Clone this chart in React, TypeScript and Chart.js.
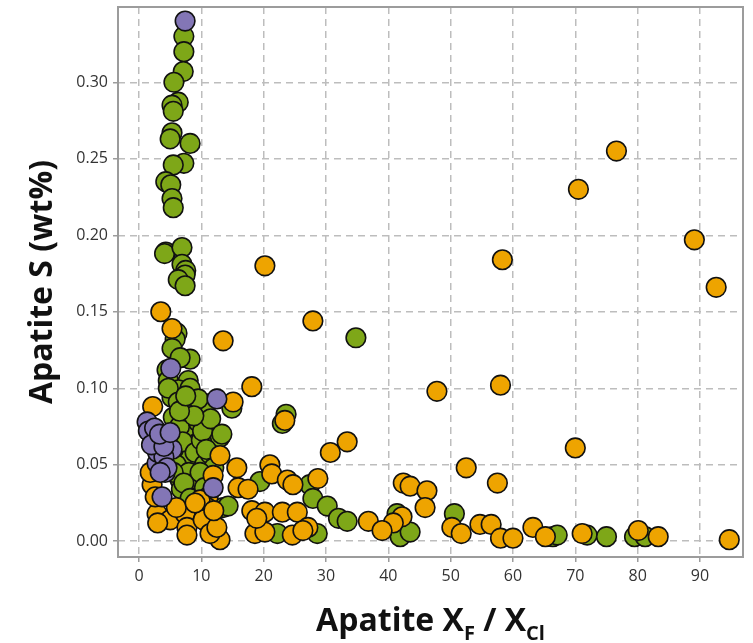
import React, { useEffect, useRef } from 'react';
import { Chart, registerables } from 'chart.js';

Chart.register(...registerables);

const xTickValues = [0, 10, 20, 30, 40, 50, 60, 70, 80, 90];
const yTickValues = [0, 0.05, 0.1, 0.15, 0.2, 0.25, 0.3];

const xTitleParts = [
  { text: 'Apatite X', sub: false },
  { text: 'F', sub: true },
  { text: ' / X', sub: false },
  { text: 'Cl', sub: true },
];
const yTitle = 'Apatite S (wt%)';

const greenX = [
  7.2, 7.2, 7.1, 5.6, 6.3, 5.3, 5.5, 5.3, 5.0, 8.2, 7.2, 5.5, 4.3, 5.1, 5.3, 5.5,
  4.3, 4.1, 6.9, 6.9, 7.5, 7.4, 6.3, 7.4,
  6.1, 5.8, 5.3, 8.2, 6.6, 4.5, 4.7, 7.9, 6.3, 5.3, 10.6, 8.2, 4.7,
  5.5, 10.6, 6.3, 13.0, 8.2, 9.3, 7.7, 6.6, 8.5, 7.7, 13.5, 5.5, 6.5, 7.0, 9.5, 4.8,
  6.0, 8.0, 9.0, 10.5, 7.5, 5.5, 9.5, 11.4, 6.8, 8.8, 10.0,
  9.5, 10.2, 11.5, 8.8, 10.8, 12.0, 9.8, 7.2, 8.2, 10.5, 6.5, 7.5,
  14.9, 13.3, 23.0, 23.6, 19.4, 14.3, 22.2, 28.6, 27.4, 27.9, 30.2, 32.0, 33.4, 34.8,
  41.4, 41.9, 43.5, 50.6, 66.4, 67.1, 71.9, 75.0, 79.5, 81.2,
];
const greenY = [
  0.330, 0.320, 0.307, 0.300, 0.287, 0.285, 0.281, 0.267, 0.263, 0.260, 0.247, 0.246, 0.235, 0.233, 0.224, 0.218,
  0.189, 0.188, 0.192, 0.181, 0.177, 0.174, 0.171, 0.167,
  0.136, 0.132, 0.126, 0.119, 0.120, 0.112, 0.105, 0.105, 0.099, 0.094, 0.090, 0.100, 0.100,
  0.081, 0.086, 0.091, 0.068, 0.071, 0.064, 0.055, 0.040, 0.036, 0.029, 0.022, 0.060, 0.075, 0.065, 0.078, 0.070,
  0.050, 0.045, 0.058, 0.050, 0.085, 0.045, 0.040, 0.057, 0.034, 0.024, 0.066,
  0.093, 0.072, 0.080, 0.082, 0.060, 0.048, 0.045, 0.038, 0.028, 0.035, 0.085, 0.095,
  0.087, 0.070, 0.077, 0.083, 0.039, 0.023, 0.005, 0.005, 0.037, 0.028, 0.023, 0.015, 0.013, 0.133,
  0.018, 0.003, 0.006, 0.018, 0.003, 0.004, 0.004, 0.003, 0.003, 0.003,
];

const purpleX = [
  7.4, 5.1, 12.5, 1.3, 2.2, 5.3, 2.9, 4.2, 3.7, 1.5, 2.5, 3.5, 3.0, 4.0, 2.0, 4.5, 11.9, 4.0, 3.3, 5.0, 3.4,
];
const purpleY = [
  0.340, 0.113, 0.093, 0.078, 0.068, 0.060, 0.051, 0.045, 0.029, 0.072, 0.074, 0.066, 0.058, 0.055, 0.063, 0.048, 0.035, 0.062, 0.070, 0.071, 0.045,
];

const orangeX = [
  76.6, 70.5, 89.1, 92.6, 58.3, 20.2, 27.9, 13.5, 3.5, 5.3,
  47.8, 58.0, 18.1, 15.1, 2.2, 23.4, 70.0, 33.4, 30.7, 13.0,
  52.5, 15.7, 21.0, 21.3, 23.8, 28.7, 57.5, 42.4, 43.5, 46.2,
  11.9, 15.9, 17.5, 2.1, 11.1, 45.9, 42.2, 40.8, 36.8, 39.0,
  50.2, 51.7, 54.7, 56.5, 58.0, 60.0, 63.2, 65.2, 71.1, 80.1,
  83.3, 94.7, 10.9, 18.1, 20.2, 23.0, 25.4, 18.6, 24.6, 27.1,
  13.0, 2.9, 5.0, 7.4, 7.7, 10.3, 11.4, 3.0, 2.6, 1.8,
  9.8, 12.5, 20.2, 18.9, 26.3, 7.7, 24.7, 6.0, 9.0, 12.0,
];
const orangeY = [
  0.255, 0.230, 0.197, 0.166, 0.184, 0.180, 0.144, 0.131, 0.150, 0.139,
  0.098, 0.102, 0.101, 0.091, 0.088, 0.079, 0.061, 0.065, 0.058, 0.056,
  0.048, 0.048, 0.050, 0.044, 0.040, 0.041, 0.038, 0.038, 0.036, 0.033,
  0.043, 0.035, 0.034, 0.037, 0.029, 0.022, 0.016, 0.012, 0.013, 0.007,
  0.009, 0.005, 0.011, 0.011, 0.002, 0.002, 0.009, 0.003, 0.005, 0.007,
  0.003, 0.001, 0.022, 0.020, 0.019, 0.019, 0.019, 0.005, 0.004, 0.009,
  0.001, 0.018, 0.014, 0.018, 0.009, 0.014, 0.005, 0.012, 0.029, 0.045,
  0.027, 0.009, 0.006, 0.015, 0.007, 0.004, 0.037, 0.022, 0.025, 0.020,
];

const toPoints = (xs: number[], ys: number[]) => xs.map((x, i) => ({ x, y: ys[i] }));

const FONT = '"Open Sans", "Noto Sans", sans-serif';

const framePlugin = {
  id: 'frameAndTitles',
  beforeDatasetsDraw(chart: any) {
    const { ctx, chartArea: a } = chart;
    ctx.save();
    ctx.strokeStyle = '#9c9c9c';
    ctx.lineWidth = 2;
    ctx.strokeRect(a.left, a.top, a.right - a.left, a.bottom - a.top);
    ctx.restore();
  },
  afterDraw(chart: any) {
    const { ctx, chartArea: a } = chart;
    ctx.save();
    ctx.fillStyle = '#111';
    ctx.textBaseline = 'alphabetic';
    ctx.textAlign = 'left';
    const mainFont = `bold 32px ${FONT}`;
    const subFont = `bold 20px ${FONT}`;
    let total = 0;
    const widths = xTitleParts.map((p) => {
      ctx.font = p.sub ? subFont : mainFont;
      const w = ctx.measureText(p.text).width;
      total += w;
      return w;
    });
    let x = (a.left + a.right) / 2 - total / 2;
    const baseY = 631;
    xTitleParts.forEach((p, i) => {
      ctx.font = p.sub ? subFont : mainFont;
      ctx.fillText(p.text, x, p.sub ? baseY + 9 : baseY);
      x += widths[i];
    });
    ctx.translate(52, (a.top + a.bottom) / 2);
    ctx.rotate(-Math.PI / 2);
    ctx.font = `bold 32px ${FONT}`;
    ctx.textAlign = 'center';
    ctx.fillText(yTitle, 0, 0);
    ctx.restore();
  },
};

export default function App() {
  const ref = useRef<HTMLCanvasElement | null>(null);
  useEffect(() => {
    if (!ref.current) return;
    const pointStyle = (color: string) => ({
      backgroundColor: color,
      borderColor: '#111',
      borderWidth: 1.6,
      pointRadius: 9.8,
      pointHoverRadius: 9.8,
    });
    const gridOpts = {
      color: '#bdbdbd',
      lineWidth: 1.5,
      tickColor: '#9c9c9c',
      tickLength: 5,
      drawTicks: true,
    };
    const chart = new Chart(ref.current, {
      type: 'scatter',
      data: {
        datasets: [
          { label: 'purple', data: toPoints(purpleX, purpleY), ...pointStyle('#8376b6') },
          { label: 'orange', data: toPoints(orangeX, orangeY), ...pointStyle('#eea400') },
          { label: 'green', data: toPoints(greenX, greenY), ...pointStyle('#7ea718') },
        ],
      },
      options: {
        animation: false,
        responsive: false,
        devicePixelRatio: 1,
        layout: { autoPadding: false, padding: { left: 0, top: 7, right: 10, bottom: 0 } },
        plugins: { legend: { display: false }, tooltip: { enabled: false } },
        scales: {
          x: {
            type: 'linear',
            min: -3.37,
            max: 96.9,
            afterBuildTicks: (scale: any) => {
              scale.ticks = xTickValues.map((v) => ({ value: v }));
            },
            afterFit: (scale: any) => {
              scale.height = 86;
              scale.paddingLeft = 0;
              scale.paddingRight = 0;
              scale.paddingTop = 0;
              scale.paddingBottom = 0;
            },
            border: { display: false, dash: [7, 5] },
            grid: gridOpts,
            ticks: {
              color: '#333',
              font: { family: FONT, size: 16 },
              padding: 5,
              maxRotation: 0,
              autoSkip: false,
              callback: (v: any) => String(v),
            },
          } as any,
          y: {
            type: 'linear',
            min: -0.0103,
            max: 0.3492,
            afterBuildTicks: (scale: any) => {
              scale.ticks = yTickValues.map((v) => ({ value: v }));
            },
            afterFit: (scale: any) => {
              scale.width = 118;
              scale.paddingLeft = 0;
              scale.paddingRight = 0;
              scale.paddingTop = 0;
              scale.paddingBottom = 0;
            },
            border: { display: false, dash: [7, 5] },
            grid: gridOpts,
            ticks: {
              color: '#333',
              font: { family: FONT, size: 16 },
              padding: 5,
              autoSkip: false,
              callback: (v: any) => Number(v).toFixed(2),
            },
          } as any,
        },
      },
      plugins: [framePlugin],
    });
    return () => chart.destroy();
  }, []);
  return (
    <div style={{ position: 'fixed', left: 0, top: 0, width: 753, height: 643, background: '#fff' }}>
      <canvas ref={ref} width={753} height={643} style={{ display: 'block', width: 753, height: 643 }} />
    </div>
  );
}
